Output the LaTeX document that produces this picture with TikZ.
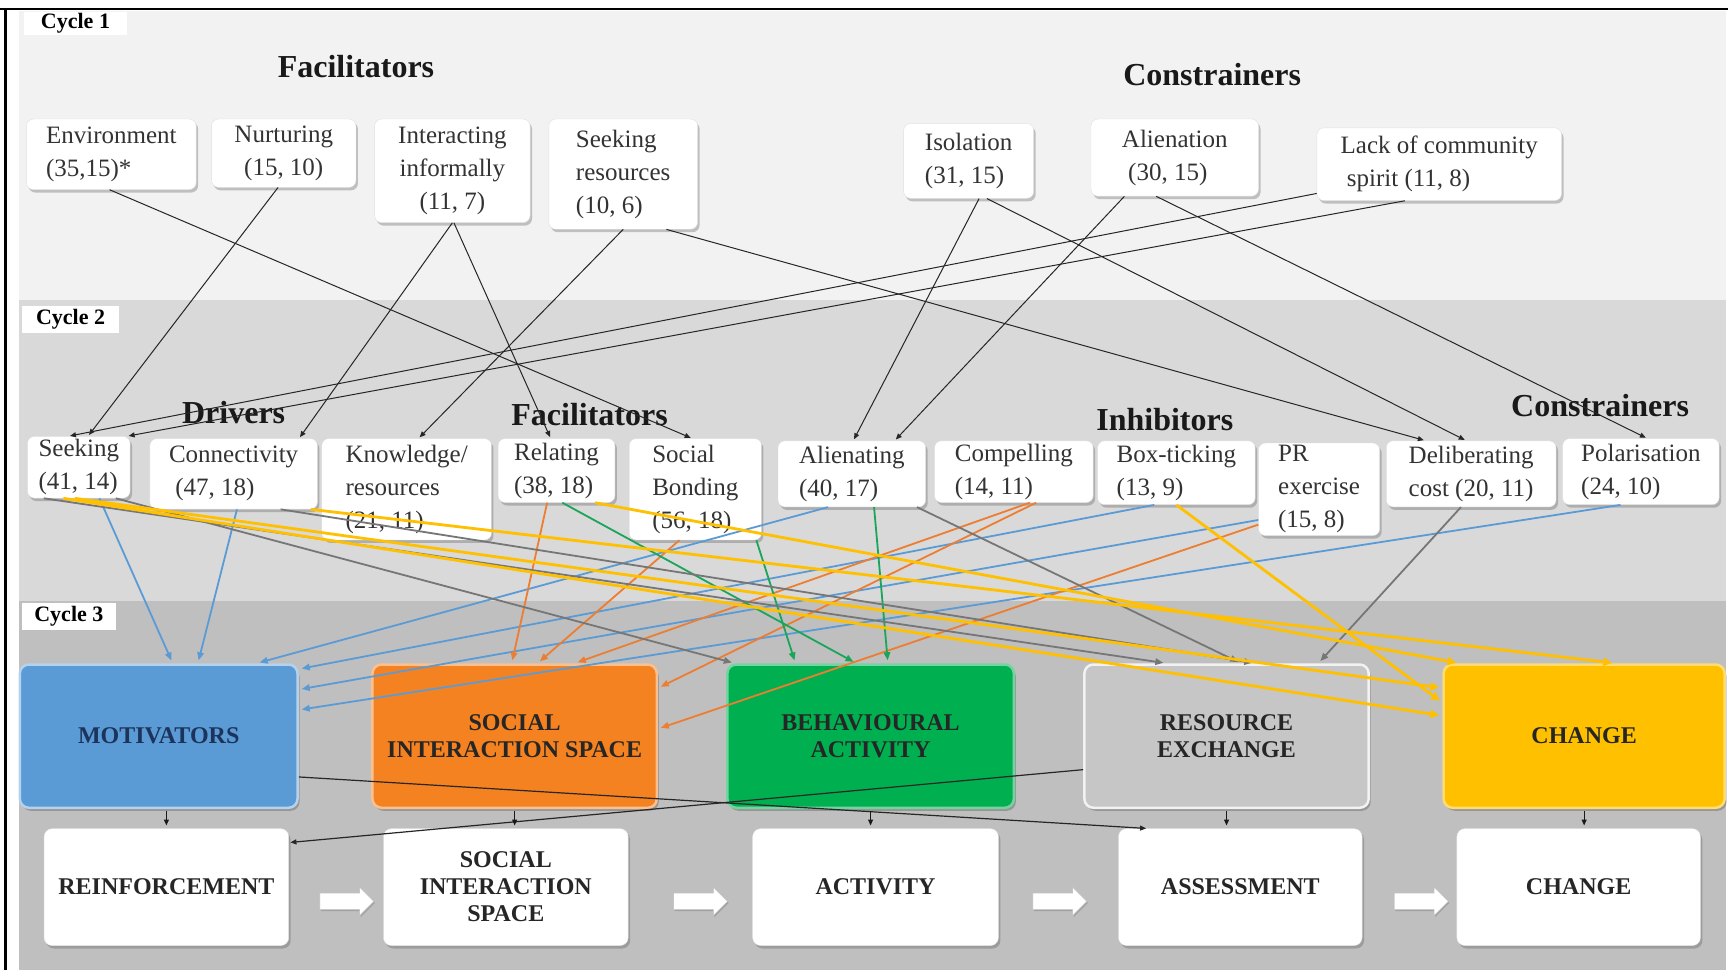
\documentclass[tikz,border=0pt]{standalone}
\usepackage{fontspec}
\setmainfont{Liberation Serif}
\usetikzlibrary{arrows.meta,calc,shadows,shapes.arrows}

\definecolor{bandA}{HTML}{F2F2F2}
\definecolor{bandB}{HTML}{D9D9D9}
\definecolor{bandC}{HTML}{BFBFBF}
\definecolor{motiv}{HTML}{5B9BD5}
\definecolor{social}{HTML}{F58220}
\definecolor{behav}{HTML}{00B050}
\definecolor{resex}{HTML}{C6C6C6}
\definecolor{chng}{HTML}{FFC000}
\definecolor{lnblue}{HTML}{5B9BD5}
\definecolor{lnorange}{HTML}{ED7D31}
\definecolor{lngreen}{HTML}{1AA55A}
\definecolor{lngray}{HTML}{767676}
\definecolor{lnyellow}{HTML}{FFC000}

\begin{document}
\begin{tikzpicture}[x=1.102pt, y=-1.102pt,
  sz/.style n args={2}{minimum width=#1*1.102pt, minimum height=#2*1.102pt},
  cyclab/.style={fill=white, inner sep=0pt, font=\fontsize{22}{24}\selectfont\bfseries},
  head/.style={font=\fontsize{32}{36}\selectfont\bfseries, text=black!90},
  tbox/.style={fill=white, draw=black!12, rounded corners=7pt, inner sep=0pt,
    font=\fontsize{25}{33}\selectfont, text=black!80,
    drop shadow={shadow xshift=2pt, shadow yshift=-3pt, opacity=0.3, fill=black!70}},
  cat/.style={rounded corners=9pt, line width=2.5pt, inner sep=0pt, align=center,
    font=\fontsize{24}{27}\selectfont\bfseries, text=black!85,
    drop shadow={shadow xshift=2pt, shadow yshift=-3pt, opacity=0.35, fill=black!70}},
  outbox/.style={fill=white, draw=black!10, rounded corners=8pt, inner sep=0pt, align=center,
    font=\fontsize{24}{27}\selectfont\bfseries, text=black!85,
    drop shadow={shadow xshift=2pt, shadow yshift=-3pt, opacity=0.3, fill=black!70}},
  blk/.style={single arrow, fill=white, draw=black!25, minimum height=54pt,
    inner xsep=0pt, inner ysep=8pt, text height=0pt, text depth=0pt,
    single arrow head extend=6pt,
    drop shadow={shadow xshift=1pt, shadow yshift=-1.5pt, opacity=0.25, fill=black!70}},
  lk/.style={draw=black!85, line width=1pt, shorten >=1.5pt, -{Triangle[length=6pt,width=5pt]}},
  dk/.style={draw=black!90, line width=1.1pt, shorten <=2pt, shorten >=3pt, -{Triangle[length=6pt,width=5pt]}},
  cl/.style={draw=#1, line width=1.8pt, shorten >=3pt, -{Triangle[length=8pt,width=6.5pt]}},
  yl/.style={draw=lnyellow, line width=2.8pt, shorten >=3pt, -{Triangle[length=9pt,width=8pt]}}
]
\useasboundingbox (0,0) rectangle (1568.06,880.2);
\fill[white] (0,0) rectangle (1568.06,880.2);

% cycle bands
\fill[bandA] (17,10) rectangle (1566,272);
\fill[bandB] (17,272) rectangle (1566,545);
\fill[bandC] (17,545) rectangle (1566,880.2);

% outer frame
\draw[line width=2.2pt] (0,8) -- (1568.06,8);
\draw[line width=2.2pt] (5,8) -- (5,880.2);

% cycle labels
\node[cyclab, sz={93}{21}] (cyc1) at (68.5,21.5) {Cycle 1};
\node[cyclab, sz={88}{24}] (cyc2) at (64,290) {Cycle 2};
\node[cyclab, sz={85}{25}] (cyc3) at (62.5,559.5) {Cycle 3};

% group headings
\node[head] (hfac1) at (323,60) {Facilitators};
\node[head] (hcon1) at (1100,68) {Constrainers};
\node[head] (hdrv) at (212,374) {Drivers};
\node[head] (hfac2) at (535,376) {Facilitators};
\node[head] (hinh) at (1057,381) {Inhibitors};
\node[head] (hcon2) at (1452,368) {Constrainers};

% cycle 1 codes
\node[tbox, align=left, sz={154}{64}] (env) at (101,140) {Environment\\(35,15)*};
\node[tbox, align=center, sz={131}{62}] (nur) at (257.5,139) {Nurturing\\(15, 10)};
\node[tbox, align=center, sz={141}{94}] (inter) at (410.5,155) {Interacting\\informally\\(11, 7)};
\node[tbox, align=left, sz={135}{100}] (seekr) at (565.5,158) {Seeking\\resources\\(10, 6)};
\node[tbox, align=left, sz={118}{68}] (iso) at (879,146) {Isolation\\(31, 15)};
\node[tbox, align=left, sz={152}{70}] (alien) at (1066,143) {Alienation\\\ (30, 15)};
\node[tbox, align=left, sz={222}{66}] (lack) at (1306,149) {Lack of community\\\ spirit (11, 8)};

% cycle 2 codes
\node[tbox, align=left, sz={93}{56}] (seek) at (71.5,424) {Seeking\\(41, 14)};
\node[tbox, align=left, sz={152}{64}] (conn) at (212,430) {Connectivity\\\ (47, 18)};
\node[tbox, align=left, sz={154}{92}] (know) at (369,444) {Knowledge/\\resources\\(21, 11)};
\node[tbox, align=left, sz={106}{58}] (rel) at (505,427) {Relating\\(38, 18)};
\node[tbox, align=left, sz={120}{92}] (bond) at (631,444) {Social\\Bonding\\(56, 18)};
\node[tbox, align=left, sz={134}{60}] (alng) at (773,430) {Alienating\\(40, 17)};
\node[tbox, align=left, sz={144}{56}] (comp) at (920,428) {Compelling\\(14, 11)};
\node[tbox, align=left, sz={143}{58}] (tick) at (1067.5,429) {Box-ticking\\(13, 9)};
\node[tbox, align=left, sz={110}{84}] (pr) at (1197,444) {PR\\exercise\\(15, 8)};
\node[tbox, align=left, sz={154}{60}] (delib) at (1335,430) {Deliberating\\cost (20, 11)};
\node[tbox, align=left, sz={142}{60}] (polar) at (1489,428) {Polarisation\\(24, 10)};

% cycle 3 categories
\node[cat, fill=motiv, draw=motiv!45!white, text={rgb,255:red,28;green,52;blue,92},
  sz={252}{130}] (mot) at (144,668) {MOTIVATORS};
\node[cat, fill=social, draw=social!50!white, sz={258}{130}] (sis) at (467,668) {SOCIAL\\INTERACTION SPACE};
\node[cat, fill=behav, draw=behav!55!white, sz={260}{130}] (ba) at (790,668) {BEHAVIOURAL\\ACTIVITY};
\node[cat, fill=resex, draw=white!90!gray, sz={258}{130}] (re) at (1113,668) {RESOURCE\\EXCHANGE};
\node[cat, fill=chng, draw=chng!55!white, sz={255}{130}] (chg) at (1437.5,668) {CHANGE};

% outcome stages
\node[outbox, sz={222}{106}] (rein) at (151,805) {REINFORCEMENT};
\node[outbox, sz={222}{106}] (sisb) at (459,805) {SOCIAL\\INTERACTION\\SPACE};
\node[outbox, sz={223}{106}] (act) at (794.5,805) {ACTIVITY};
\node[outbox, sz={221}{106}] (ass) at (1125.5,805) {ASSESSMENT};
\node[outbox, sz={221}{106}] (chgb) at (1432.5,805) {CHANGE};

% block arrows between stages
\node[blk] (ar1) at (311,818) {};
\node[blk] (ar2) at (632,818) {};
\node[blk] (ar3) at (958,818) {};
\node[blk] (ar4) at (1286,818) {};

% cycle 1 -> cycle 2
\draw[lk] ($(env.south west)!0.49!(env.south east)$) -- ($(bond.north west)!0.475!(bond.north east)$);
\draw[lk] ($(nur.south west)!0.46!(nur.south east)$) -- ($(seek.north west)!0.59!(seek.north east)$);
\draw[lk] ($(inter.south west)!0.50!(inter.south east)$) -- ($(conn.north west)!0.89!(conn.north east)$);
\draw[lk] ($(inter.south west)!0.51!(inter.south east)$) -- ($(rel.north west)!0.45!(rel.north east)$);
\draw[lk] ($(seekr.south west)!0.50!(seekr.south east)$) -- ($(know.north west)!0.57!(know.north east)$);
\draw[lk] ($(seekr.south west)!0.79!(seekr.south east)$) -- ($(delib.north west)!0.23!(delib.north east)$);
\draw[lk] ($(iso.south west)!0.58!(iso.south east)$) -- ($(alng.north west)!0.51!(alng.north east)$);
\draw[lk] ($(iso.south west)!0.64!(iso.south east)$) -- ($(delib.north west)!0.47!(delib.north east)$);
\draw[lk] ($(alien.south west)!0.20!(alien.south east)$) -- ($(alng.north west)!0.79!(alng.north east)$);
\draw[lk] ($(alien.south west)!0.39!(alien.south east)$) -- ($(polar.north west)!0.54!(polar.north east)$);
\draw[lk] ($(lack.north west)!0.9!(lack.south west)$) -- ($(seek.north west)!0.40!(seek.north east)$);
\draw[lk] ($(lack.south west)!0.36!(lack.south east)$) -- ($(seek.north west)!0.97!(seek.north east)$);

% cycle 2 -> motivators
\draw[cl=lnblue] ($(seek.south west)!0.70!(seek.south east)$) -- ($(mot.north west)!0.55!(mot.north east)$);
\draw[cl=lnblue] ($(conn.south west)!0.52!(conn.south east)$) -- ($(mot.north west)!0.64!(mot.north east)$);
\draw[cl=lnblue] ($(alng.south west)!0.34!(alng.south east)$) -- ($(mot.north west)!0.85!(mot.north east)$);
\draw[cl=lnblue] ($(tick.south west)!0.36!(tick.south east)$) -- ($(mot.north east)!0.04!(mot.south east)$);
\draw[cl=lnblue] ($(pr.north west)!0.83!(pr.south west)$) -- ($(mot.north east)!0.18!(mot.south east)$);
\draw[cl=lnblue] ($(polar.south west)!0.37!(polar.south east)$) -- ($(mot.north east)!0.32!(mot.south east)$);

% cycle 2 -> social interaction space
\draw[cl=lnorange] ($(rel.south west)!0.42!(rel.south east)$) -- ($(sis.north west)!0.49!(sis.north east)$);
\draw[cl=lnorange] ($(bond.south west)!0.38!(bond.south east)$) -- ($(sis.north west)!0.58!(sis.north east)$);
\draw[cl=lnorange] ($(comp.south west)!0.60!(comp.south east)$) -- ($(sis.north west)!0.71!(sis.north east)$);
\draw[cl=lnorange] ($(comp.south west)!0.64!(comp.south east)$) -- ($(sis.north east)!0.17!(sis.south east)$);
\draw[cl=lnorange] ($(pr.north west)!0.88!(pr.south west)$) -- ($(sis.north east)!0.45!(sis.south east)$);

% cycle 2 -> behavioural activity
\draw[cl=lngreen] ($(rel.south west)!0.55!(rel.south east)$) -- ($(ba.north west)!0.45!(ba.north east)$);
\draw[cl=lngreen] ($(bond.south west)!0.96!(bond.south east)$) -- ($(ba.north west)!0.24!(ba.north east)$);
\draw[cl=lngreen] ($(alng.south west)!0.65!(alng.south east)$) -- ($(ba.north west)!0.56!(ba.north east)$);

% cycle 2 -> resource exchange
\draw[cl=lngray] ($(seek.south west)!0.16!(seek.south east)$) -- ($(re.north west)!0.29!(re.north east)$);
\draw[cl=lngray] ($(seek.south west)!0.86!(seek.south east)$) -- ($(ba.north west)!0.03!(ba.north east)$);
\draw[cl=lngray] ($(conn.south west)!0.78!(conn.south east)$) -- ($(re.north west)!0.60!(re.north east)$);
\draw[cl=lngray] ($(alng.south west)!0.94!(alng.south east)$) -- ($(re.north west)!0.55!(re.north east)$);
\draw[cl=lngray] ($(delib.south west)!0.44!(delib.south east)$) -- ($(re.north west)!0.82!(re.north east)$);

% cycle 2 -> change
\draw[yl] ($(seek.south west)!0.35!(seek.south east)$) -- ($(chg.north west)!0.36!(chg.south west)$);
\draw[yl] ($(seek.south west)!0.46!(seek.south east)$) -- ($(chg.north west)!0.17!(chg.south west)$);
\draw[yl] ($(conn.south west)!0.96!(conn.south east)$) -- ($(chg.north west)!0.61!(chg.north east)$);
\draw[yl] ($(rel.south west)!0.83!(rel.south east)$) -- ($(chg.north west)!0.06!(chg.north east)$);
\draw[yl] ($(tick.south west)!0.50!(tick.south east)$) -- ($(chg.north west)!0.27!(chg.south west)$);

% links inside cycle 3
\draw[lk, line width=1.2pt] ($(mot.north east)!0.78!(mot.south east)$) -- ($(ass.north west)!0.12!(ass.north east)$);
\draw[lk, line width=1.2pt] ($(re.north west)!0.73!(re.south west)$) -- ($(rein.north east)!0.12!(rein.south east)$);

% category -> stage
\draw[dk] (mot.south -| rein.north) -- (rein.north);
\draw[dk] (sis.south) -- (sis.south |- sisb.north);
\draw[dk] (ba.south) -- (ba.south |- act.north);
\draw[dk] (re.south) -- (re.south |- ass.north);
\draw[dk] (chg.south) -- (chg.south |- chgb.north);
\end{tikzpicture}
\end{document}
